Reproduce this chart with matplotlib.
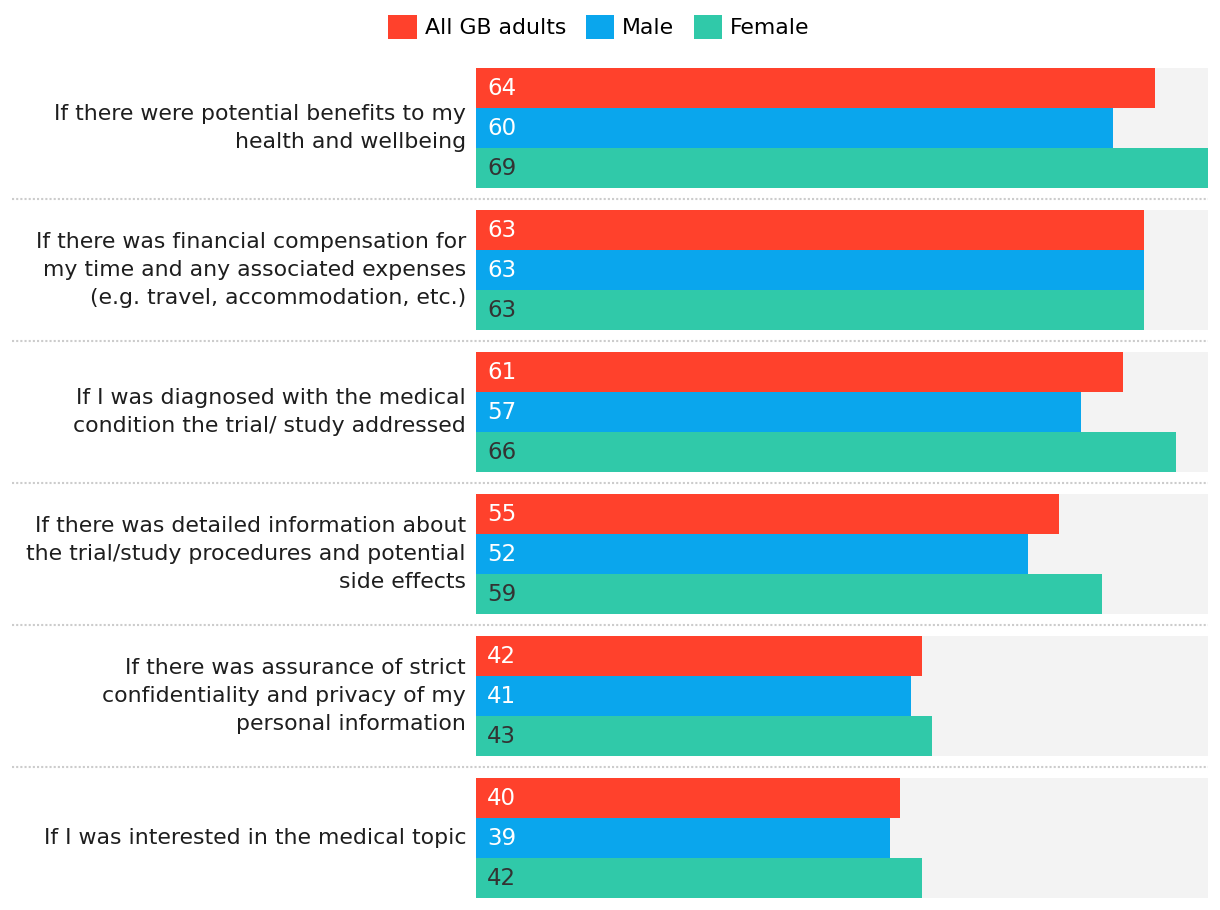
import matplotlib.pyplot as plt
from matplotlib.patches import Patch

# 数据
categories = [
    'If there were potential benefits to my\nhealth and wellbeing',
    'If there was financial compensation for\nmy time and any associated expenses\n(e.g. travel, accommodation, etc.)',
    'If I was diagnosed with the medical\ncondition the trial/ study addressed',
    'If there was detailed information about\nthe trial/study procedures and potential\nside effects',
    'If there was assurance of strict\nconfidentiality and privacy of my\npersonal information',
    'If I was interested in the medical topic',
]
series_names = ['All GB adults', 'Male', 'Female']
all_adults = [64, 63, 61, 55, 42, 40]
male = [60, 63, 57, 52, 41, 39]
female = [69, 63, 66, 59, 43, 42]

colors = ['#ff412c', '#0aa6ed', '#30c9a9']
text_colors = ['white', 'white', '#333333']

W, H = 1220, 910
fig = plt.figure(figsize=(W / 100, H / 100), dpi=100)
plt.rcParams['font.family'] = ['DejaVu Sans']

# 坐标轴位置 (像素换算)
left, right, top, bottom = 476, 1208, 68, 898
ax = fig.add_axes([left / W, 1 - bottom / H, (right - left) / W, (bottom - top) / H])

pitch = 142 / 40  # 组间距, 以单根柱高为单位
xmax = max(max(all_adults), max(male), max(female))
values = [all_adults, male, female]

for i, cat in enumerate(categories):
    base = i * pitch
    # 灰色背景
    ax.barh(base + 1.5, xmax, height=3, color='#f3f3f3', zorder=0)
    for j in range(3):
        y = base + j + 0.5
        ax.barh(y, values[j][i], height=1, color=colors[j], zorder=1)
        ax.text(11 / 10.6, y + 0.02, str(values[j][i]), color=text_colors[j],
                fontsize=16.5, va='center', ha='left', zorder=2)
    ax.text(-10 / 732, base + 1.5, cat, transform=ax.get_yaxis_transform(),
            ha='right', va='center', fontsize=15.8, color='#1e1e1e',
            linespacing=1.47)
    if i < len(categories) - 1:
        ys = base + 3 + (pitch - 3) / 2
        ax.plot([(12 - left) / 732, 1], [ys, ys], transform=ax.get_yaxis_transform(),
                color='#cccccc', linewidth=1.5, linestyle=(0, (1, 1)), clip_on=False)

ax.set_xlim(0, xmax)
ax.set_ylim((len(categories) - 1) * pitch + 3, 0)
ax.axis('off')

# 图例
handles = [Patch(facecolor=c, label=n) for c, n in zip(colors, series_names)]
fig.legend(handles=handles, loc='center', bbox_to_anchor=(599 / W, 1 - 27 / H),
           ncol=3, frameon=False, fontsize=15.8, handlelength=1.3, handleheight=1.3,
           handletextpad=0.35, columnspacing=0.9)

fig.savefig('out.png', dpi=100)
